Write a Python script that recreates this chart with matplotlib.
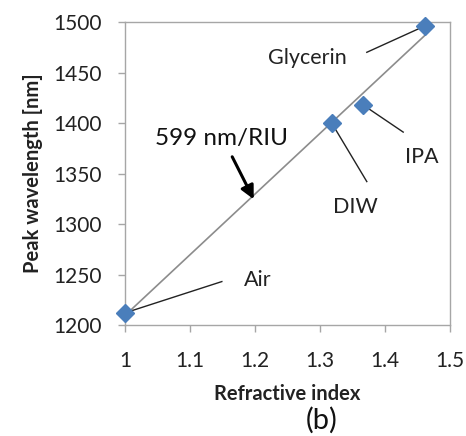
import numpy as np
import matplotlib
matplotlib.use("Agg")
import matplotlib.pyplot as plt

plt.rcParams['font.family'] = ['Lato', 'DejaVu Sans']

ri = [1.0, 1.318, 1.366, 1.461]
peak = [1212, 1400, 1418, 1496]
names = ["Air", "DIW", "IPA", "Glycerin"]
sensitivity_label = "599 nm/RIU"
xticks = [1, 1.1, 1.2, 1.3, 1.4, 1.5]
yticks = [1200, 1250, 1300, 1350, 1400, 1450, 1500]

fig = plt.figure(figsize=(4.66, 4.36), dpi=100)
ax = fig.add_axes([125/466, 1-325/436, 325/466, 303/436])

# linear trend line
slope, icpt = np.polyfit(ri, peak, 1)
xl = np.array([ri[0], ri[-1]])
ax.plot(xl, slope*xl + icpt, color='#8c8c8c', lw=1.2, zorder=2)

ax.plot(ri, peak, linestyle='none', marker='D', markersize=9.5,
        color='#4a7ebb', markeredgecolor='#4a7ebb', zorder=3, clip_on=False)

# labels with leader lines: (text pos, line end)
ann = {
    "Glycerin": ((1.28, 1464), (1.372, 1470)),
    "IPA": ((1.457, 1366), (1.428, 1391)),
    "DIW": ((1.354, 1317), (1.372, 1342)),
    "Air": ((1.205, 1245), (1.149, 1243)),
}
for n, x, y in zip(names, ri, peak):
    (tx, ty), (lx, ly) = ann[n]
    ax.plot([x, lx], [y, ly], color='#222222', lw=1.0, zorder=2.5)
    ax.text(tx, ty, n, fontsize=15.5, ha='center', va='center', color='#222222')

ax.text(1.149, 1385, sensitivity_label, fontsize=17.5, ha='center', va='center', color='#111111')
ax.annotate("", xy=(1.2, 1322), xytext=(1.163, 1369),
            arrowprops=dict(arrowstyle='-|>,head_length=0.8,head_width=0.4',
                            color='black', lw=2.2))

ax.set_xlim(1, 1.5)
ax.set_ylim(1200, 1500)
ax.set_xticks(xticks)
ax.set_xticklabels([f"{t:g}" for t in xticks])
ax.set_yticks(yticks)
for s in ax.spines.values():
    s.set_color('#a6a6a6')
    s.set_linewidth(1.0)
ax.tick_params(direction='out', length=5, width=1, color='#a6a6a6',
               labelsize=15, labelcolor='#222222')
ax.tick_params(axis='x', pad=14)
ax.tick_params(axis='y', pad=12)
ax.set_xlabel("Refractive index", fontsize=14.5, fontweight='bold', color='#222222', labelpad=9)
ax.set_ylabel("Peak wavelength [nm]", fontsize=14.5, fontweight='bold', color='#222222', labelpad=7)

fig.text(322/466, 1-420/436, "(b)", fontsize=21, ha='center', va='center', color='#111111')

fig.savefig("out.png", dpi=100)
